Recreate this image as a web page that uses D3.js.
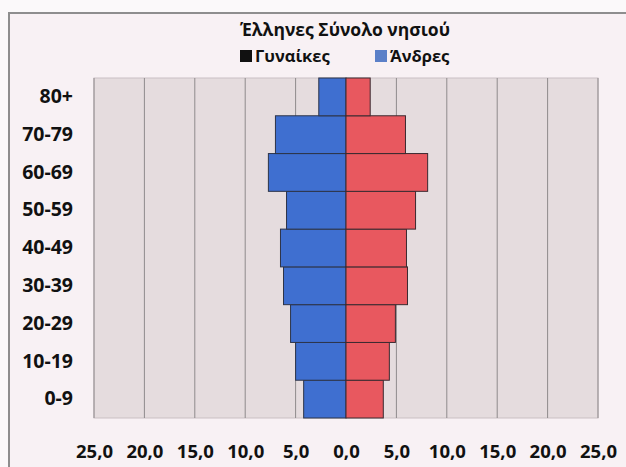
<!DOCTYPE html>
<html>
<head>
<meta charset="utf-8">
<script src="https://cdn.jsdelivr.net/npm/d3@7"></script>
<style>
  html, body { margin: 0; padding: 0; background: #fbf9fa; }
  svg { display: block; }
  text { font-family: "Open Sans", "Noto Sans", sans-serif; font-weight: bold; fill: #111; }
</style>
</head>
<body>
<svg id="chart" width="626" height="467"></svg>
<script>
const title = "Έλληνες Σύνολο νησιού";
const seriesNames = ["Γυναίκες", "Άνδρες"];
const ageGroups = ["0-9", "10-19", "20-29", "30-39", "40-49", "50-59", "60-69", "70-79", "80+"];
const men = [4.2, 5.0, 5.5, 6.2, 6.5, 5.9, 7.7, 7.0, 2.7];
const women = [3.7, 4.3, 4.9, 6.1, 6.0, 6.9, 8.1, 5.9, 2.4];
const xTicks = [-25, -20, -15, -10, -5, 0, 5, 10, 15, 20, 25];

const svg = d3.select("#chart");
const W = 626, H = 467;

// chart background and frame
svg.append("rect").attr("x", 9).attr("y", 13).attr("width", W - 9).attr("height", H - 13).attr("fill", "#f8f1f4");
svg.append("path").attr("d", `M9,${H} V13 H${W}`).attr("fill", "none").attr("stroke", "#8e8e8e").attr("stroke-width", 2);

const plot = { left: 94, right: 598, top: 78, bottom: 418 };
const x = d3.scaleLinear().domain([-25, 25]).range([plot.left, plot.right]);
const y = d3.scaleBand().domain(ageGroups.slice().reverse()).range([plot.top, plot.bottom]).padding(0);

// plot area
svg.append("rect").attr("x", plot.left).attr("y", plot.top)
  .attr("width", plot.right - plot.left).attr("height", plot.bottom - plot.top)
  .attr("fill", "#e5dcde").attr("stroke", "#c9c0c3").attr("stroke-width", 1);

// gridlines
svg.append("g").selectAll("line").data(xTicks).join("line")
  .attr("x1", d => x(d)).attr("x2", d => x(d))
  .attr("y1", plot.top).attr("y2", plot.bottom)
  .attr("stroke", "#8f8a8c").attr("stroke-width", 1);

// bars
const rows = ageGroups.map((a, i) => ({ age: a, men: men[i], women: women[i] }));
svg.append("g").selectAll("rect").data(rows).join("rect")
  .attr("x", d => x(-d.men)).attr("y", d => y(d.age))
  .attr("width", d => x(0) - x(-d.men)).attr("height", y.bandwidth())
  .attr("fill", "#3f6fd0").attr("stroke", "#2d3448").attr("stroke-width", 1);
svg.append("g").selectAll("rect").data(rows).join("rect")
  .attr("x", x(0)).attr("y", d => y(d.age))
  .attr("width", d => x(d.women) - x(0)).attr("height", y.bandwidth())
  .attr("fill", "#e8585f").attr("stroke", "#3a2a30").attr("stroke-width", 1);

// x axis labels
const fmt = v => Math.abs(v).toFixed(1).replace(".", ",");
const xAxis = d3.axisBottom(x).tickValues(xTicks).tickFormat(fmt).tickSize(0).tickPadding(0);
const gx = svg.append("g").attr("transform", `translate(0,${plot.bottom + 34})`).call(xAxis);
gx.select(".domain").remove();
gx.selectAll("text").attr("font-size", 18.5).attr("dy", "0.32em")
  .style("font-family", '"Open Sans", sans-serif').style("font-weight", "bold").attr("fill", "#111");

// y axis labels
const yAxis = d3.axisLeft(y).tickSize(0).tickPadding(0);
const gy = svg.append("g").attr("transform", `translate(${plot.left - 21},0)`).call(yAxis);
gy.select(".domain").remove();
gy.selectAll("text").attr("font-size", 19.5)
  .style("font-family", '"Open Sans", sans-serif').style("font-weight", "bold").attr("fill", "#111");

// title
svg.append("text").attr("x", 345).attr("y", 36).attr("text-anchor", "middle")
  .attr("font-size", 17.5).text(title);

// legend
const legendColors = ["#111111", "#5b80c8"];
const legendX = [240, 375];
seriesNames.forEach((n, i) => {
  svg.append("rect").attr("x", legendX[i]).attr("y", 50).attr("width", 12).attr("height", 12).attr("fill", legendColors[i]);
  svg.append("text").attr("x", legendX[i] + 15).attr("y", 62).attr("font-size", 16.5)
    .text(n);
});
</script>
</body>
</html>
